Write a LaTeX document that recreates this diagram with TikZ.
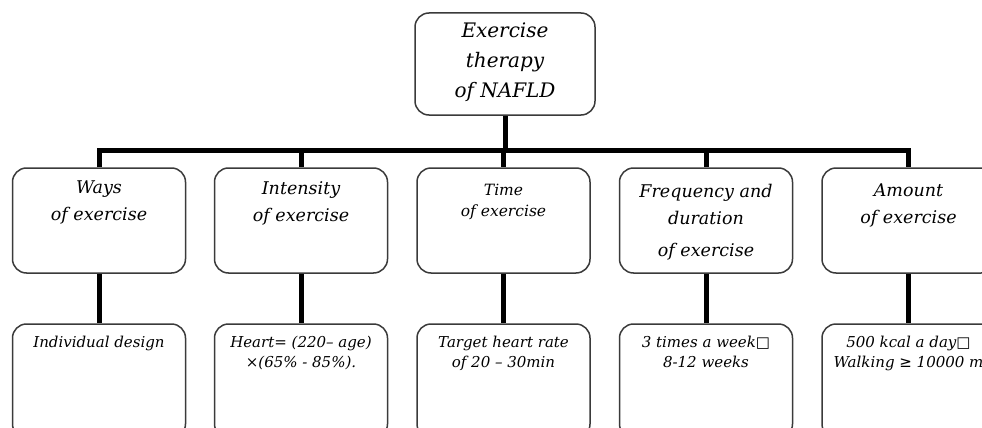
\documentclass[tikz,border=0pt]{standalone}
\usepackage{fontspec}
\setmainfont{DejaVu Serif}
\newfontfamily\symfont{DejaVu Sans}
\definecolor{boxgray}{HTML}{3A3A3A}
\begin{document}
\begin{tikzpicture}[x=1pt,y=-1pt,
  box/.style={draw=boxgray, line width=1.5pt, rounded corners=14pt,
    minimum width=173pt, minimum height=105pt, inner sep=0pt, fill=white},
  lowbox/.style={box, minimum height=114pt},
  conn/.style={line width=5pt, draw=black},
  toptxt/.style={anchor=north, align=center, inner sep=0pt,
    font=\itshape\fontsize{20}{30}\selectfont},
  midtxt/.style={anchor=north, align=center, inner sep=0pt,
    font=\itshape\fontsize{17.5}{27}\selectfont},
  lowtxt/.style={anchor=north, align=center, inner sep=0pt,
    font=\itshape\fontsize{15}{19.5}\selectfont}]
\useasboundingbox (0,0) rectangle (982,428);

% root
\node[box, minimum width=180pt, minimum height=102pt] (root) at (505,64) {};
\node[toptxt] (roott) at (505,23) {Exercise\\therapy\\of NAFLD};

% first row
\node[box] (a1) at (99,220.5) {};
\node[box] (a2) at (301,220.5) {};
\node[box] (a3) at (503.5,220.5) {};
\node[box] (a4) at (706,220.5) {};
\node[box] (a5) at (908.5,220.5) {};

\node[midtxt] (a1t) at (99,181) {Ways\\of exercise};
\node[midtxt] (a2t) at (301,181) {Intensity\\of exercise};
\node[anchor=north, align=center, inner sep=0pt,
  font=\itshape\fontsize{15.5}{21}\selectfont] (a3t) at (503.5,184) {Time\\of exercise};
\node[midtxt] (a4t) at (706,184) {Frequency and\\duration\\[5pt]of exercise};
\node[midtxt] (a5t) at (908.5,184) {Amount\\of exercise};

% second row
\node[lowbox] (b1) at (99,381) {};
\node[lowbox] (b2) at (301,381) {};
\node[lowbox] (b3) at (503.5,381) {};
\node[lowbox] (b4) at (706,381) {};
\node[lowbox] (b5) at (908.5,381) {};

\node[lowtxt] (b1t) at (99,336) {Individual design};
\node[lowtxt] (b2t) at (301,336) {Heart= (220– age)\\×(65\% - 85\%).};
\node[lowtxt] (b3t) at (503.5,336) {Target heart rate\\of 20 – 30min};
\node[lowtxt] (b4t) at (706,336) {3 times a week{\symfont\upshape □}\\8-12 weeks};
\node[lowtxt] (b5t) at (908.5,336) {500 kcal a day{\symfont\upshape □}\\Walking {\symfont ≥} 10000 m};

% connectors
\coordinate (bar) at (505,150);
\draw[conn] (root.south) -- (bar);
\draw[conn] (a1.north) |- (a5.north |- bar) -- (a5.north);
\draw[conn] (a2.north |- bar) -- (a2.north);
\draw[conn] (a3.north |- bar) -- (a3.north);
\draw[conn] (a4.north |- bar) -- (a4.north);
\foreach \i in {1,...,5} {
  \draw[conn] (a\i.south) -- (b\i.north);
}
\end{tikzpicture}
\end{document}
